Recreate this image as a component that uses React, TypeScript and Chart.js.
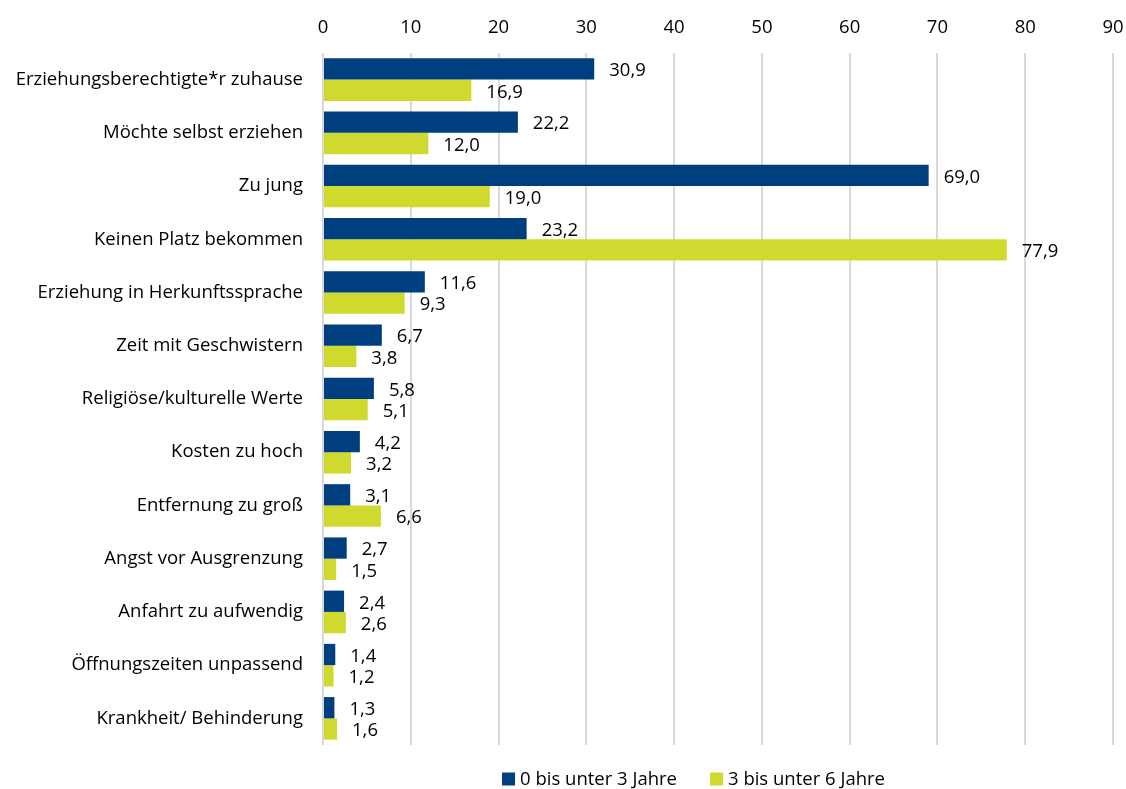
import React, { useEffect, useRef } from "react";
import { Chart, registerables } from "chart.js";

Chart.register(...registerables);

const categories = [
  "Erziehungsberechtigte*r zuhause",
  "Möchte selbst erziehen",
  "Zu jung",
  "Keinen Platz bekommen",
  "Erziehung in Herkunftssprache",
  "Zeit mit Geschwistern",
  "Religiöse/kulturelle Werte",
  "Kosten zu hoch",
  "Entfernung zu groß",
  "Angst vor Ausgrenzung",
  "Anfahrt zu aufwendig",
  "Öffnungszeiten unpassend",
  "Krankheit/ Behinderung",
];

const seriesNames = ["0 bis unter 3 Jahre", "3 bis unter 6 Jahre"];
const seriesColors = ["#003f7f", "#d0d92e"];
const under3 = [30.9, 22.2, 69.0, 23.2, 11.6, 6.7, 5.8, 4.2, 3.1, 2.7, 2.4, 1.4, 1.3];
const from3to6 = [16.9, 12.0, 19.0, 77.9, 9.3, 3.8, 5.1, 3.2, 6.6, 1.5, 2.6, 1.2, 1.6];
const xTicks = [0, 10, 20, 30, 40, 50, 60, 70, 80, 90];

const FONT = "'Open Sans'";
const FONT_SIZE = 18.5;

const fmt = (v: number) => v.toFixed(1).replace(".", ",");

const valueLabels = {
  id: "valueLabels",
  afterDatasetsDraw(chart: any) {
    const ctx = chart.ctx;
    ctx.save();
    ctx.font = `${FONT_SIZE}px ${FONT}`;
    ctx.fillStyle = "#000000";
    ctx.textAlign = "left";
    ctx.textBaseline = "middle";
    chart.data.datasets.forEach((ds: any, i: number) => {
      const meta = chart.getDatasetMeta(i);
      meta.data.forEach((bar: any, j: number) => {
        ctx.fillText(fmt(ds.data[j]), bar.x + 15, bar.y + 2);
      });
    });
    ctx.restore();
  },
};

const customLegend = {
  id: "customLegend",
  afterDraw(chart: any) {
    const ctx = chart.ctx;
    ctx.save();
    ctx.font = `${FONT_SIZE}px ${FONT}`;
    ctx.textAlign = "left";
    ctx.textBaseline = "middle";
    const box = 13;
    const gapText = 5;
    const gapItem = 33;
    const widths = chart.data.datasets.map(
      (ds: any) => box + gapText + ctx.measureText(ds.label).width
    );
    const total = widths.reduce((a: number, b: number) => a + b, 0) + gapItem * (widths.length - 1);
    let x = 693.5 - total / 2;
    const y = 779;
    chart.data.datasets.forEach((ds: any, i: number) => {
      ctx.fillStyle = ds.backgroundColor;
      ctx.fillRect(x, y - box / 2, box, box);
      ctx.fillStyle = "#000000";
      ctx.fillText(ds.label, x + box + gapText, y + 1);
      x += widths[i] + gapItem;
    });
    ctx.restore();
  },
};

export default function App() {
  const ref = useRef<HTMLCanvasElement | null>(null);

  useEffect(() => {
    document.body.style.margin = "0";
    if (!ref.current) return;
    const chart = new Chart(ref.current, {
      type: "bar",
      data: {
        labels: categories,
        datasets: [
          {
            label: seriesNames[0],
            data: under3,
            backgroundColor: seriesColors[0],
            barPercentage: 1,
            categoryPercentage: 0.8,
          },
          {
            label: seriesNames[1],
            data: from3to6,
            backgroundColor: seriesColors[1],
            barPercentage: 1,
            categoryPercentage: 0.8,
          },
        ],
      },
      options: {
        indexAxis: "y",
        animation: false,
        responsive: true,
        maintainAspectRatio: false,
        layout: { padding: { top: 0, right: 13, left: 0, bottom: 44 } },
        scales: {
          x: {
            position: "top",
            min: 0,
            max: 90,
            afterBuildTicks: (scale: any) => {
              scale.ticks = xTicks.map((v) => ({ value: v }));
            },
            afterFit: (scale: any) => {
              scale.height = 53;
              scale.paddingLeft = 0;
              scale.paddingRight = 0;
            },
            grid: { color: "#d9d9d9", lineWidth: 2, drawTicks: false },
            border: { display: false },
            ticks: {
              padding: 14,
              color: "#000000",
              font: { family: FONT, size: FONT_SIZE },
            },
          },
          y: {
            afterFit: (scale: any) => {
              scale.width = 323;
              scale.paddingTop = 0;
              scale.paddingBottom = 0;
            },
            grid: { display: false, drawTicks: false },
            border: { display: false },
            ticks: {
              padding: 20,
              color: "#000000",
              font: { family: FONT, size: FONT_SIZE },
            },
          },
        },
        plugins: {
          legend: { display: false },
          tooltip: { enabled: false },
        },
      },
      plugins: [valueLabels, customLegend],
    });
    return () => chart.destroy();
  }, []);

  return (
    <div style={{ width: "1126px", height: "789px", position: "relative" }}>
      <canvas ref={ref} />
    </div>
  );
}
